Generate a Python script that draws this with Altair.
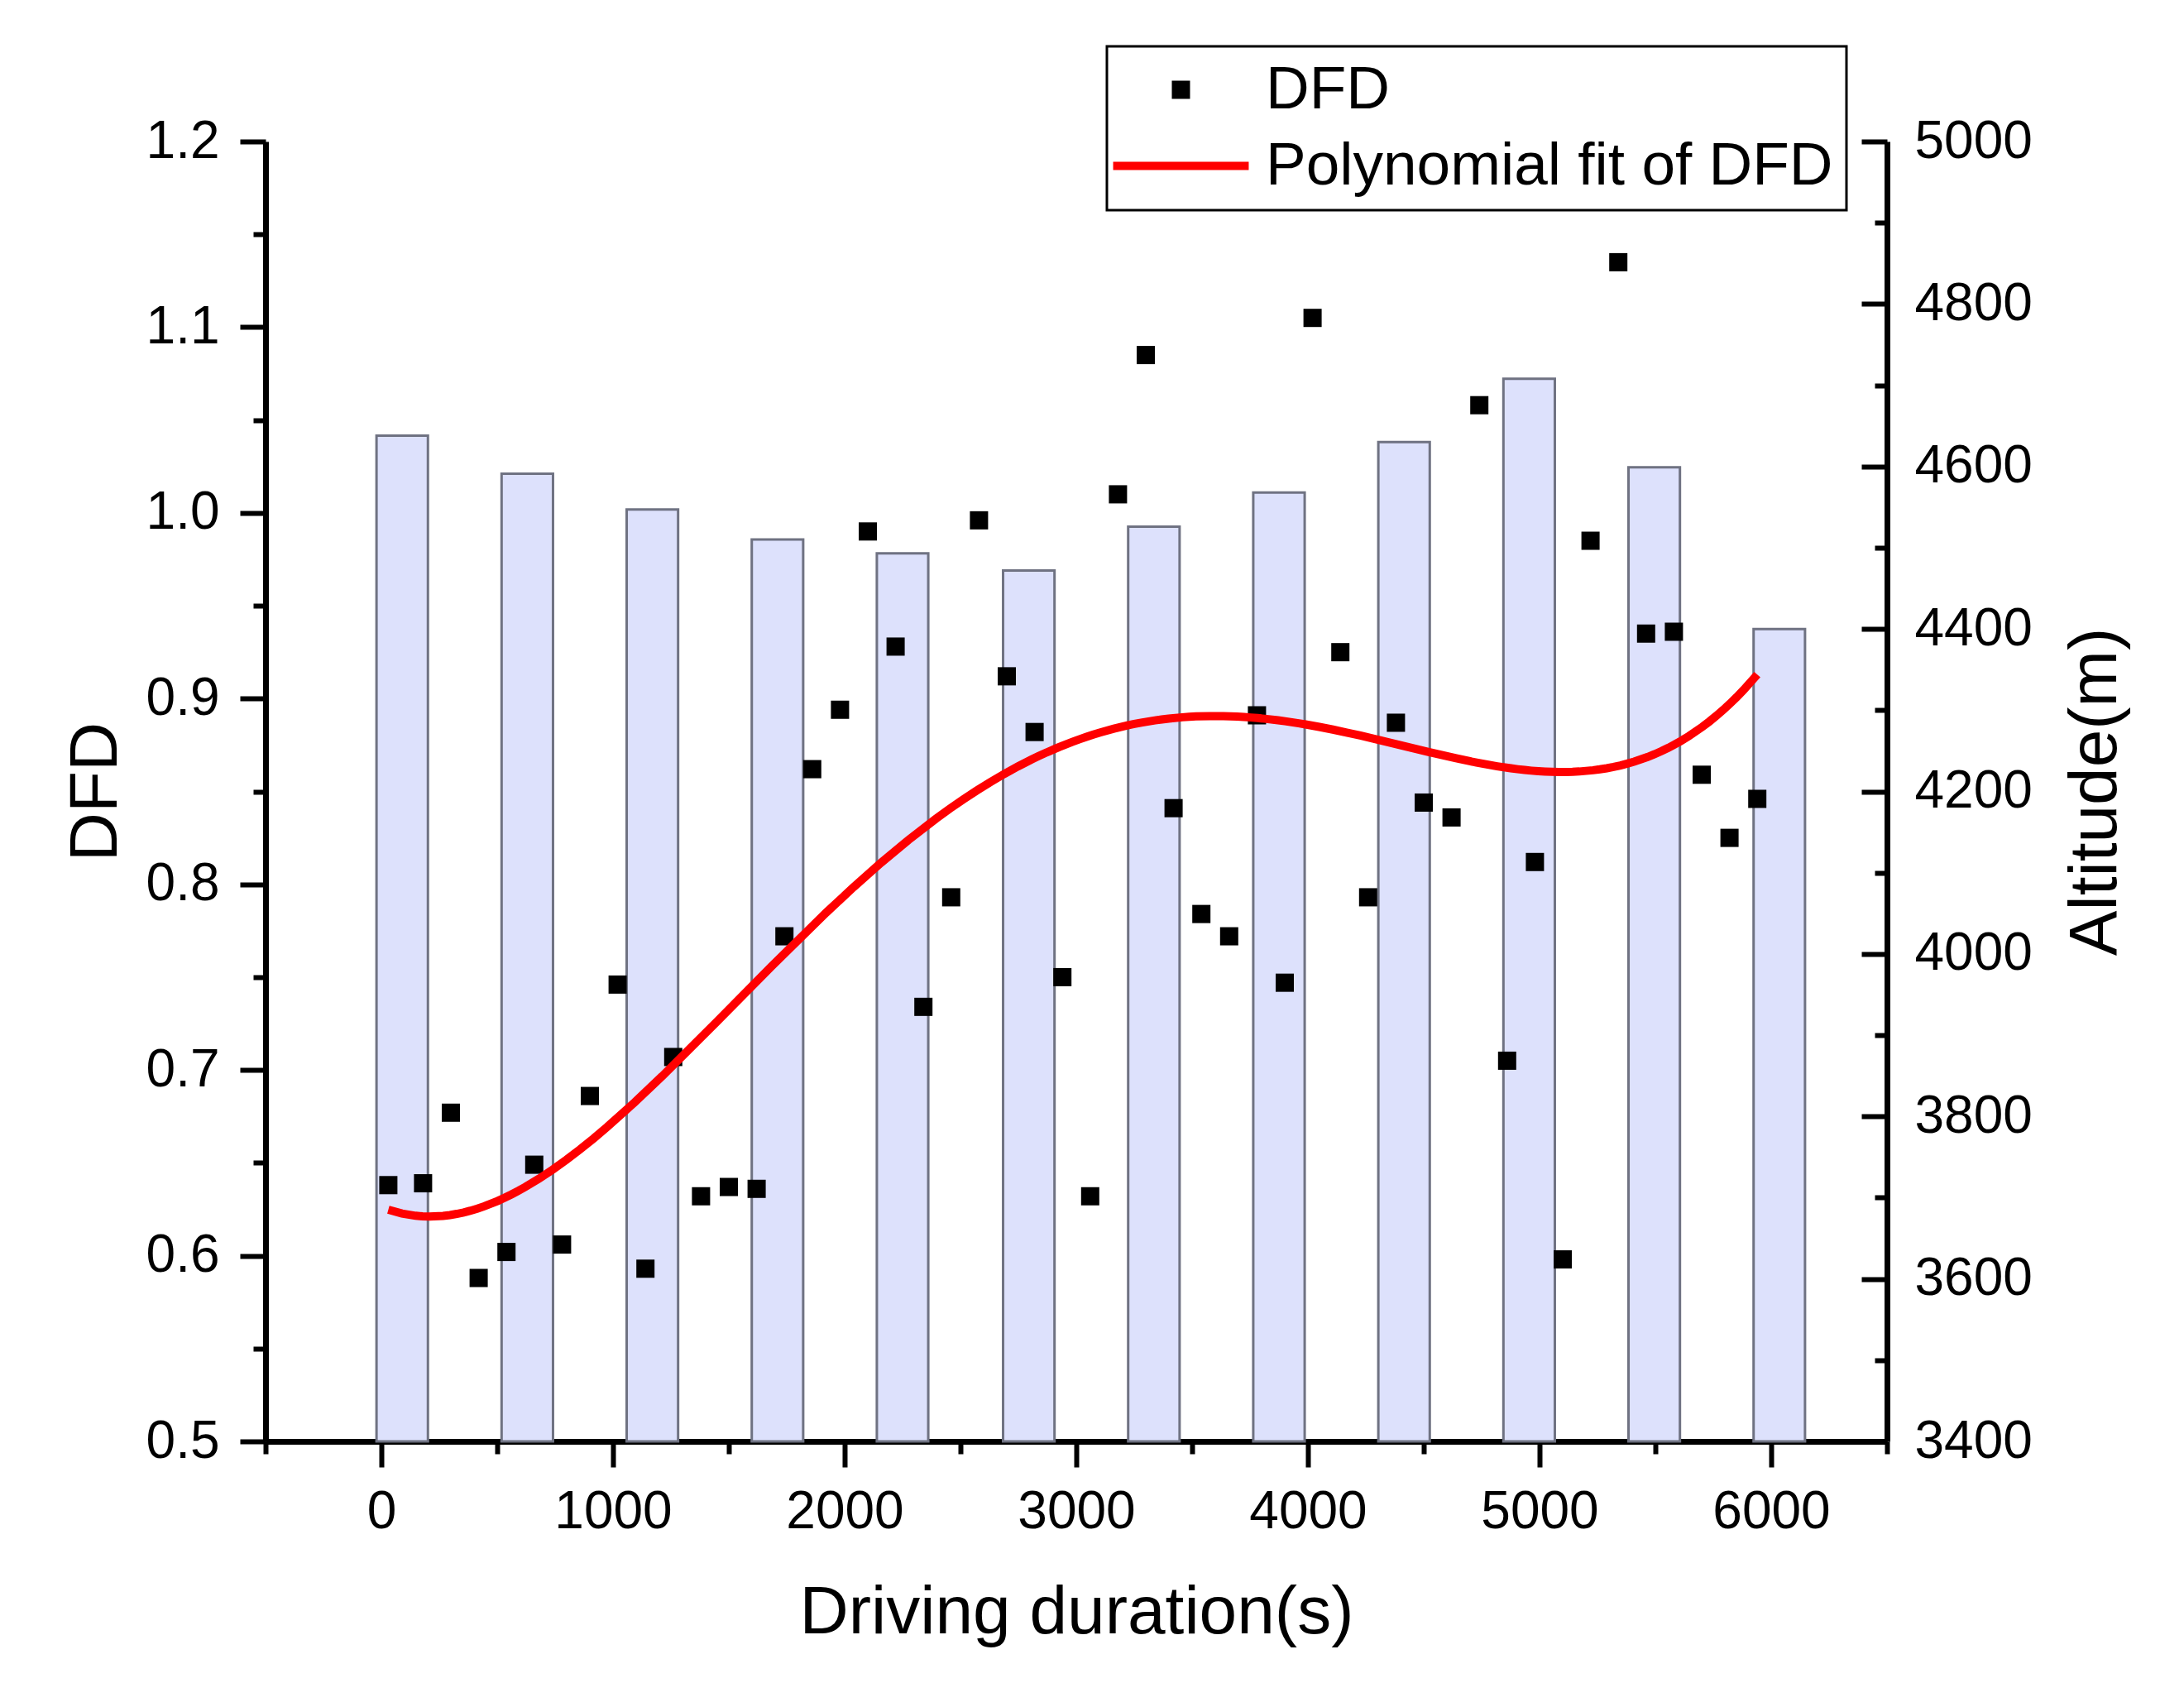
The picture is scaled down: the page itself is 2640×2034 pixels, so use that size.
import altair as alt
import pandas as pd

# ---------------- data ----------------
times = [30, 180, 300, 420, 540, 660, 780, 900, 1020, 1140,
         1260, 1380, 1500, 1620, 1740, 1860, 1980, 2100, 2220, 2340,
         2460, 2580, 2700, 2820, 2940, 3060, 3180, 3300, 3420, 3540,
         3660, 3780, 3900, 4020, 4140, 4260, 4380, 4500, 4620, 4740,
         4860, 4980, 5100, 5220, 5340, 5460, 5580, 5700, 5820, 5940]
dfd_values = [0.638, 0.639, 0.677, 0.588, 0.602, 0.649, 0.606, 0.686, 0.746, 0.593,
              0.707, 0.632, 0.637, 0.636, 0.772, 0.862, 0.894, 0.990, 0.928, 0.734,
              0.793, 0.996, 0.912, 0.882, 0.750, 0.632, 1.010, 1.085, 0.841, 0.784,
              0.772, 0.891, 0.747, 1.105, 0.925, 0.793, 0.887, 0.844, 0.836, 1.058,
              0.705, 0.812, 0.598, 0.985, 1.135, 0.935, 0.936, 0.859, 0.825, 0.846]
bar_centers = [90, 630, 1170, 1710, 2250, 2795, 3335, 3875, 4415, 4955, 5495, 6035]
altitudes = [4638, 4591, 4547, 4510, 4493, 4472, 4526, 4568, 4630, 4708, 4599, 4400]
series_names = ["DFD", "Polynomial fit of DFD"]

x_major = [0, 1000, 2000, 3000, 4000, 5000, 6000]
x_minor = [-500, 500, 1500, 2500, 3500, 4500, 5500, 6500]
dfd_major = [0.5, 0.6, 0.7, 0.8, 0.9, 1.0, 1.1, 1.2]
dfd_minor = [0.55, 0.65, 0.75, 0.85, 0.95, 1.05, 1.15]
alt_major = [3400, 3600, 3800, 4000, 4200, 4400, 4600, 4800, 5000]
alt_minor = [3500, 3700, 3900, 4100, 4300, 4500, 4700, 4900]
alt_base = 3400

# ---------------- style ----------------
W, H = 1960, 1571
FONT = "Liberation Sans"
BAR_HALF = 111
LINE_SYMBOL = "M-7.45,-0.45L7.45,-0.45L7.45,0.45L-7.45,0.45Z"

scatter_df = pd.DataFrame({"t": times, "dfd": dfd_values, "series": series_names[0]})
bar_df = pd.DataFrame({"center": bar_centers, "altitude": altitudes})

x_scale = alt.Scale(domain=[-500, 6500], nice=False, zero=False)
dfd_scale = alt.Scale(domain=[0.5, 1.2], nice=False, zero=False)
alt_scale = alt.Scale(domain=[3400, 5000], nice=False, zero=False)

common = dict(domainColor="black", tickColor="black", labelColor="black",
              titleColor="black", labelFont=FONT, titleFont=FONT,
              labelFontSize=64, titleFontSize=82, titleFontWeight="normal",
              grid=False, domainWidth=7, tickWidth=6)

legend = alt.Legend(title=None, orient="none", legendX=1017, legendY=-115,
                    direction="vertical", fillColor="white", strokeColor="black",
                    padding=16, labelFont=FONT, labelFontSize=73, labelColor="black",
                    labelLimit=3000, labelOffset=66, symbolOffset=37, rowPadding=18,
                    symbolSize=484, symbolStrokeWidth=0)

bars = alt.Chart(bar_df).transform_calculate(
    x_start=f"datum.center - {BAR_HALF}", x_end=f"datum.center + {BAR_HALF}"
).mark_bar(fill="#dde1fc", stroke="#6f7282", strokeWidth=3).encode(
    x=alt.X("x_start:Q", scale=x_scale, axis=None),
    x2="x_end:Q",
    y=alt.Y("altitude:Q", scale=alt_scale,
            axis=alt.Axis(orient="left", offset=-W, values=alt_major, labels=False,
                          tickSize=31, title=None, **common)),
    y2=alt.datum(alt_base),
)

alt_minor_layer = alt.Chart(bar_df).mark_point(opacity=0).encode(
    x=alt.X("center:Q", scale=x_scale, axis=None),
    y=alt.Y("altitude:Q", scale=alt_scale,
            axis=alt.Axis(orient="left", offset=-W, values=alt_minor, labels=False,
                          domain=False, tickSize=15, title=None, **common)),
)

alt_label_layer = alt.Chart(bar_df).mark_point(opacity=0).encode(
    x=alt.X("center:Q", scale=x_scale, axis=None),
    y=alt.Y("altitude:Q", scale=alt_scale,
            axis=alt.Axis(orient="right", values=alt_major, ticks=False, tickSize=0,
                          domain=False, labelPadding=33, format="d",
                          title="Altitude(m)", titleAngle=270, titleBaseline="top",
                          titlePadding=36, **common)),
)

scatter = alt.Chart(scatter_df).mark_point(filled=True, size=484, opacity=1, strokeWidth=0).encode(
    x=alt.X("t:Q", scale=x_scale,
            axis=alt.Axis(orient="bottom", values=x_major, tickSize=31, labelPadding=22,
                          format="d", title="Driving duration(s)", titlePadding=49, **common)),
    y=alt.Y("dfd:Q", scale=dfd_scale,
            axis=alt.Axis(orient="left", values=dfd_major, tickSize=31, labelPadding=25,
                          format=".1f", title="DFD", titlePadding=19, **common)),
    shape=alt.Shape("series:N", scale=alt.Scale(domain=series_names, range=["square", LINE_SYMBOL]),
                    legend=legend),
    fill=alt.Fill("series:N", scale=alt.Scale(domain=series_names, range=["#000000", "#ff0000"]),
                  legend=legend),
)

fit = alt.Chart(scatter_df).transform_regression(
    "t", "dfd", method="poly", order=4
).mark_line(color="#ff0000", strokeWidth=10).encode(
    x=alt.X("t:Q", scale=x_scale,
            axis=alt.Axis(orient="bottom", values=x_minor, labels=False, domain=False,
                          tickSize=15, title=None, **common)),
    y=alt.Y("dfd:Q", scale=dfd_scale,
            axis=alt.Axis(orient="left", values=dfd_minor, labels=False, domain=False,
                          tickSize=15, title=None, **common)),
)

chart = alt.layer(bars, alt_minor_layer, alt_label_layer, scatter, fit).resolve_scale(
    y="independent"
).resolve_axis(
    x="independent", y="independent"
).properties(
    width=W, height=H,
    padding={"left": 313, "top": 163, "right": 340, "bottom": 270},
    autosize=alt.AutoSizeParams(type="none"),
    background="white",
).configure_view(stroke=None).configure_legend(strokeWidth=3)

chart.save("out.html", embed_options={"renderer": "svg", "actions": False})
